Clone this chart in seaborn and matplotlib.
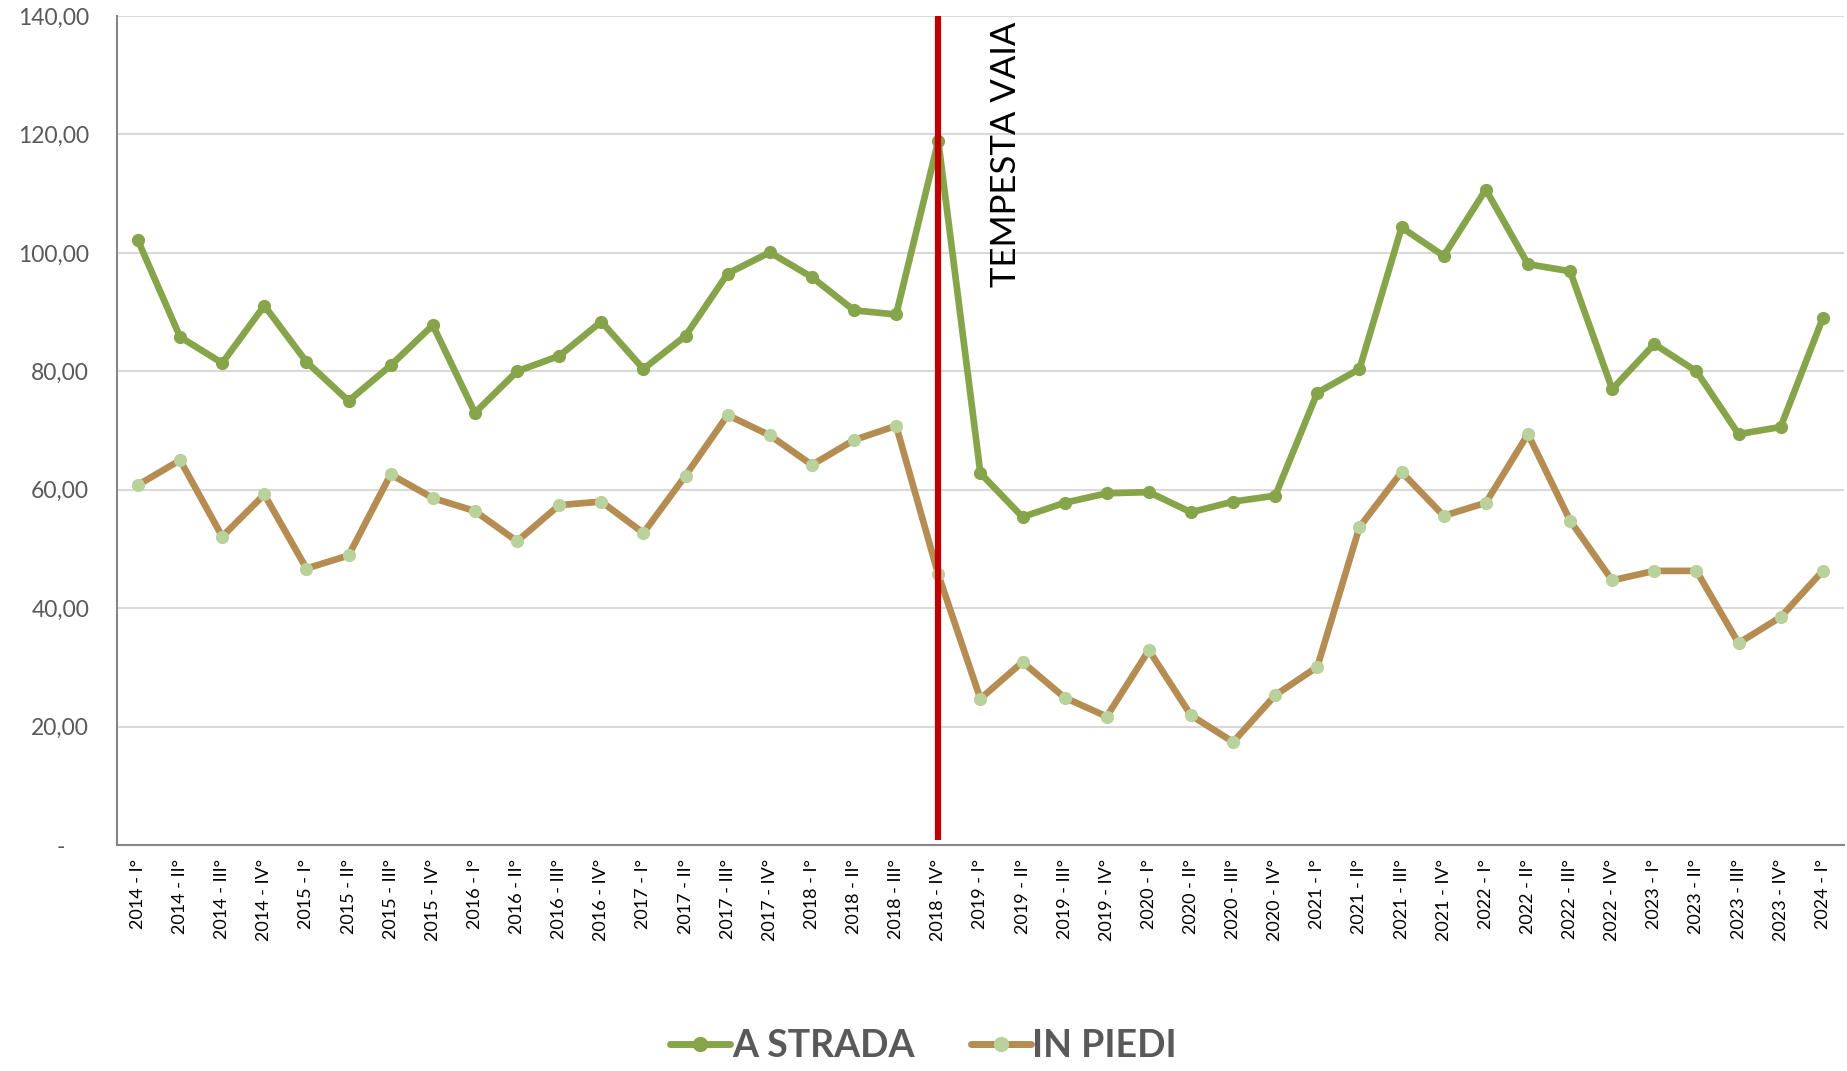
import numpy as np
import pandas as pd
import seaborn as sns
import matplotlib.pyplot as plt
from matplotlib.lines import Line2D

# quarters 2014-I .. 2024-I
quarters = ['I°', 'II°', 'III°', 'IV°']
periods = [f'{y} - {q}' for y in range(2014, 2024) for q in quarters] + ['2024 - I°']

a_strada = [102.1, 85.8, 81.4, 91.1, 81.6, 75.0, 81.0, 87.8, 73.0, 80.0,
            82.6, 88.4, 80.4, 86.0, 96.5, 100.1, 95.9, 90.3, 89.6, 118.9,
            62.8, 55.4, 57.8, 59.4, 59.6, 56.2, 58.0, 59.0, 76.4, 80.4,
            104.3, 99.5, 110.7, 98.1, 96.9, 77.0, 84.6, 80.0, 69.4, 70.6,
            89.0]

in_piedi = [60.8, 65.0, 52.1, 59.2, 46.7, 48.9, 62.6, 58.6, 56.4, 51.3,
            57.4, 58.0, 52.7, 62.4, 72.6, 69.2, 64.2, 68.4, 70.8, 45.7,
            24.7, 30.9, 24.9, 21.7, 32.9, 21.9, 17.4, 25.3, 30.1, 53.7,
            63.0, 55.6, 57.8, 69.4, 54.8, 44.7, 46.3, 46.3, 34.1, 38.5,
            46.3]

event_period = '2018 - IV°'
event_label = 'TEMPESTA VAIA'

green = '#86A44A'
brown = '#B58C52'
light_green = '#B9D19A'
grey_txt = '#595959'

sns.set_style('white')
plt.rcParams['font.family'] = ['Lato', 'DejaVu Sans']

df = pd.DataFrame({'idx': np.arange(len(periods)), 'A STRADA': a_strada, 'IN PIEDI': in_piedi})

fig = plt.figure(figsize=(18.47, 10.71), dpi=100)
ax = fig.add_axes([0.0633, 0.211, 0.935, 0.774])

# red marker line for the storm
ev = periods.index(event_period)
ax.vlines(ev, 0.8, 140, color='#C00000', lw=4.5, zorder=5)

sns.lineplot(data=df, x='idx', y='A STRADA', ax=ax, color=green, lw=4.8,
             marker='o', markersize=9.5, markeredgewidth=0, markerfacecolor=green, zorder=3)
sns.lineplot(data=df, x='idx', y='IN PIEDI', ax=ax, color=brown, lw=4.8,
             marker='o', markersize=9.5, markeredgewidth=0, markerfacecolor=light_green, zorder=3)

ax.text(ev + 1.6, 94.3, event_label, rotation=90, ha='center', va='bottom',
        fontsize=25, color='black')

ax.set_xlim(-0.5, len(periods) - 0.5)
ax.set_ylim(0, 140)
ax.set_xticks(range(len(periods)))
ax.set_xticklabels(periods, rotation=90, fontsize=13, color='black')
yt = np.arange(0, 141, 20)
ax.set_yticks(yt)
ax.set_yticklabels(['-    '] + [f'{v:.2f}'.replace('.', ',') for v in yt[1:]],
                   fontsize=16.5, color=grey_txt)
ax.tick_params(axis='y', length=0, pad=20)
ax.tick_params(axis='x', length=0, pad=10)
ax.set_xlabel('')
ax.set_ylabel('')

ax.grid(axis='y', color='#D9D9D9', lw=1.5)
ax.set_axisbelow(True)
for s in ['top', 'right']:
    ax.spines[s].set_visible(False)
for s in ['left', 'bottom']:
    ax.spines[s].set_color('#868686')
    ax.spines[s].set_linewidth(1.5)

handles = [
    Line2D([], [], color=green, lw=5, marker='o', markersize=11, markerfacecolor=green, markeredgewidth=0),
    Line2D([], [], color=brown, lw=5, marker='o', markersize=11, markerfacecolor=light_green, markeredgewidth=0),
]
leg = fig.legend(handles, ['A STRADA', 'IN PIEDI'], loc='lower center', ncol=2,
                 bbox_to_anchor=(0.5, -0.024), frameon=False, handlelength=1.6,
                 columnspacing=1.5, handletextpad=0.05,
                 prop={'size': 27, 'weight': 'bold'})
for t in leg.get_texts():
    t.set_color(grey_txt)

fig.savefig('out.png', dpi=100)
